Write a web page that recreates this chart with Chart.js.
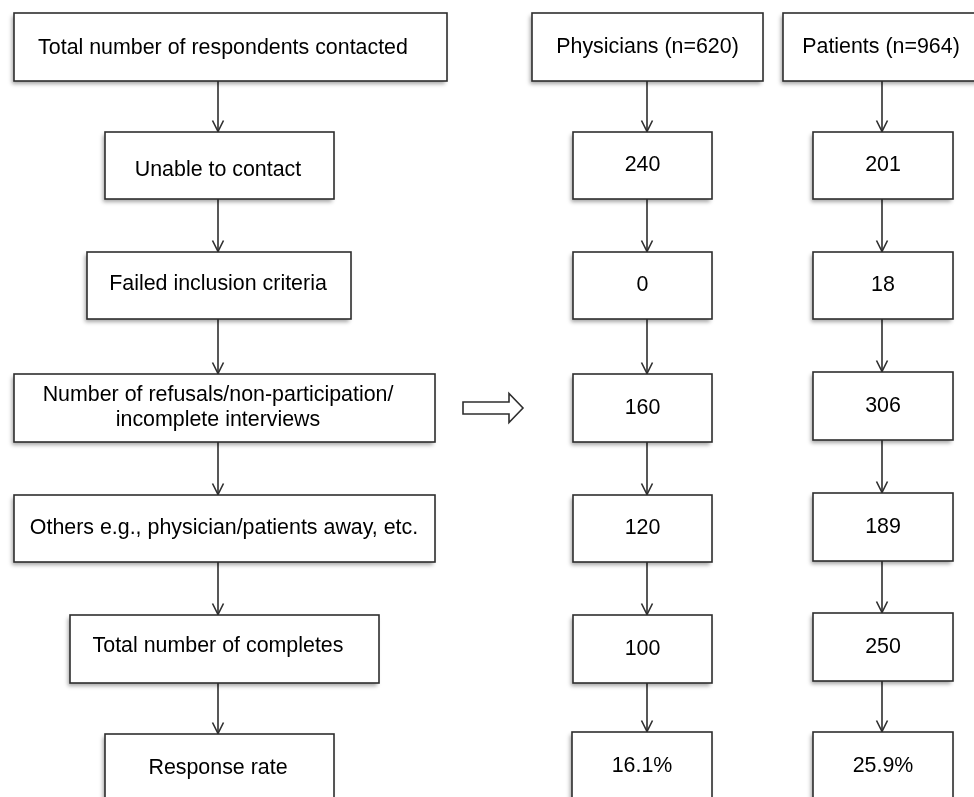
<!DOCTYPE html>
<html>
<head>
<meta charset="utf-8">
<script src="https://cdn.jsdelivr.net/npm/chart.js@4/dist/chart.umd.min.js"></script>
<style>
  html, body { margin: 0; padding: 0; background: #ffffff; }
  #wrap { width: 974px; height: 797px; position: relative; }
</style>
</head>
<body>
<div id="wrap"><canvas id="c" width="974" height="797"></canvas></div>
<script>
// ---------- DATA ----------
const stages = [
  "Total number of respondents contacted",
  "Unable to contact",
  "Failed inclusion criteria",
  ["Number of refusals/non-participation/", "incomplete interviews"],
  "Others e.g., physician/patients away, etc.",
  "Total number of completes",
  "Response rate"
];
const groups = ["Physicians", "Patients"];
const groupTotals = [620, 964];
const physicianCounts = [240, 0, 160, 120, 100];
const patientCounts = [201, 18, 306, 189, 250];
const responseRates = [16.1, 25.9];

// ---------- LAYOUT (data units on hidden linear axes) ----------
const leftTop    = [13, 132, 252, 374, 495, 615, 734];
const leftBottom = [81, 199, 319, 442, 562, 683, 800];
const leftX      = [[14, 447], [105, 334], [87, 351], [14, 435], [14, 435], [70, 379], [105, 334]];
const leftTextX  = [223, 218, 218, 218, 224, 218, 218];
const leftTextDy = [1, 5, -1, 0, 0, -3, 1];
const leftArrowX = 218;

const physTop    = [13, 132, 252, 374, 495, 615, 732];
const physBottom = [81, 199, 319, 442, 562, 683, 800];
const physX      = [[532, 763], [573, 712], [573, 712], [573, 712], [573, 712], [573, 712], [572, 712]];
const physArrowX = 647;

const patTop     = [13, 132, 252, 372, 493, 613, 732];
const patBottom  = [81, 199, 319, 440, 561, 681, 800];
const patX       = [[783, 990], [813, 953], [813, 953], [813, 953], [813, 953], [813, 953], [813, 953]];
const patArrowX  = 882;

const blockArrow = { x0: 463, x1: 509, x2: 523, yc: 408, shaftHalf: 6, headHalf: 14.5 };

const FONT = '21.4px "Liberation Sans", Arial, sans-serif';
const INK = '#000000';
const EDGE = '#2e2e2e';

function fmtCount(v) { return String(v); }
function fmtRate(v) { return v.toFixed(1) + '%'; }

const physLabels = [groups[0] + ' (n=' + groupTotals[0] + ')']
  .concat(physicianCounts.map(fmtCount), [fmtRate(responseRates[0])]);
const patLabels = [groups[1] + ' (n=' + groupTotals[1] + ')']
  .concat(patientCounts.map(fmtCount), [fmtRate(responseRates[1])]);

// ---------- DRAWING PLUGIN ----------
const flowPlugin = {
  id: 'flow',
  afterDraw(chart) {
    const ctx = chart.ctx;
    const sx = chart.scales.x, sy = chart.scales.y;
    const X = v => sx.getPixelForValue(v);
    const Y = v => sy.getPixelForValue(v);

    function box(x0, x1, y0, y1, text, tx, dy) {
      const px0 = X(x0), px1 = X(x1), py0 = Y(y0), py1 = Y(y1);
      ctx.save();
      ctx.shadowColor = 'rgba(0,0,0,0.35)';
      ctx.shadowBlur = 4;
      ctx.shadowOffsetX = -2;
      ctx.shadowOffsetY = 3;
      ctx.fillStyle = '#ffffff';
      ctx.fillRect(px0, py0, px1 - px0, py1 - py0);
      ctx.restore();
      ctx.save();
      ctx.strokeStyle = EDGE;
      ctx.lineWidth = 1.6;
      ctx.strokeRect(px0, py0, px1 - px0, py1 - py0);
      ctx.fillStyle = INK;
      ctx.font = FONT;
      ctx.textAlign = 'center';
      ctx.textBaseline = 'middle';
      const cx = X(tx !== undefined ? tx : (x0 + x1) / 2);
      const cy = Y((y0 + y1) / 2 + (dy || 0));
      const lines = Array.isArray(text) ? text : [text];
      const lh = 25;
      lines.forEach((ln, i) => {
        ctx.fillText(ln, cx, cy + (i - (lines.length - 1) / 2) * lh);
      });
      ctx.restore();
    }

    function arrow(x, y0, y1) {
      const px = X(x), p0 = Y(y0), p1 = Y(y1);
      ctx.save();
      ctx.strokeStyle = EDGE;
      ctx.lineWidth = 1.6;
      ctx.beginPath();
      ctx.moveTo(px, p0);
      ctx.lineTo(px, p1);
      ctx.stroke();
      ctx.beginPath();
      ctx.moveTo(px - 5.5, p1 - 11.5);
      ctx.lineTo(px, p1 - 0.5);
      ctx.lineTo(px + 5.5, p1 - 11.5);
      ctx.stroke();
      ctx.restore();
    }

    // arrows first so boxes sit on top
    for (let i = 0; i < stages.length - 1; i++) {
      arrow(leftArrowX, leftBottom[i], leftTop[i + 1]);
      arrow(physArrowX, physBottom[i], physTop[i + 1]);
      arrow(patArrowX, patBottom[i], patTop[i + 1]);
    }

    for (let i = 0; i < stages.length; i++) {
      box(leftX[i][0], leftX[i][1], leftTop[i], leftBottom[i], stages[i], leftTextX[i], leftTextDy[i]);
      box(physX[i][0], physX[i][1], physTop[i], physBottom[i], physLabels[i]);
      box(patX[i][0], patX[i][1], patTop[i], patBottom[i], patLabels[i], i === 0 ? 881 : undefined);
    }

    // hollow block arrow
    const b = blockArrow;
    ctx.save();
    ctx.strokeStyle = EDGE;
    ctx.lineWidth = 1.6;
    ctx.fillStyle = '#ffffff';
    ctx.beginPath();
    ctx.moveTo(X(b.x0), Y(b.yc - b.shaftHalf));
    ctx.lineTo(X(b.x1), Y(b.yc - b.shaftHalf));
    ctx.lineTo(X(b.x1), Y(b.yc - b.headHalf));
    ctx.lineTo(X(b.x2), Y(b.yc));
    ctx.lineTo(X(b.x1), Y(b.yc + b.headHalf));
    ctx.lineTo(X(b.x1), Y(b.yc + b.shaftHalf));
    ctx.lineTo(X(b.x0), Y(b.yc + b.shaftHalf));
    ctx.closePath();
    ctx.fill();
    ctx.stroke();
    ctx.restore();
  }
};

new Chart(document.getElementById('c'), {
  type: 'scatter',
  data: { datasets: [{ data: [], pointRadius: 0 }] },
  options: {
    responsive: false,
    animation: false,
    layout: { padding: 0 },
    plugins: { legend: { display: false }, tooltip: { enabled: false }, title: { display: false } },
    scales: {
      x: { type: 'linear', min: 0, max: 974, display: false },
      y: { type: 'linear', min: 0, max: 797, reverse: true, display: false }
    }
  },
  plugins: [flowPlugin]
});
</script>
</body>
</html>
